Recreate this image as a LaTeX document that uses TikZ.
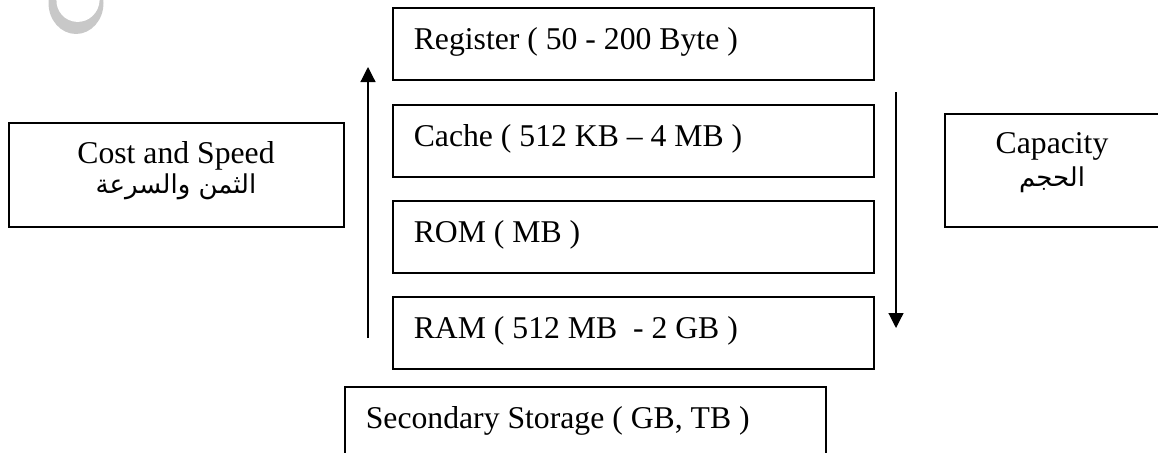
\documentclass[tikz,border=0pt]{standalone}
\usepackage{fontspec}
\setmainfont{Liberation Serif}
\newfontfamily\arabicfont[Script=Arabic]{DejaVu Sans}
\TeXXeTstate=1
\usetikzlibrary{arrows.meta}

\definecolor{wmgray}{RGB}{200,200,200}

\newcommand\tiertext[1]{\makebox[439pt][l]{#1}}

\tikzset{
  memtier/.style={draw, line width=1.6pt, anchor=north west,
    inner xsep=21pt, inner ysep=0pt,
    text height=42pt, text depth=30pt},
  sidebox/.style={draw, line width=1.6pt, anchor=north west},
  latin/.style={anchor=base, inner sep=0pt},
  arab/.style={anchor=base, inner sep=0pt, font=\arabicfont\fontsize{26pt}{30pt}\selectfont},
  flow/.style={line width=1.2pt, -{Triangle[width=15pt,length=15pt]}}
}

\begin{document}
\begin{tikzpicture}[x=1pt, y=-1pt, font=\fontsize{31.7pt}{38pt}\selectfont]
  \useasboundingbox (0,0) rectangle (1158,452);
  \clip (0,0) rectangle (1158,452);

  % faint ring mark in the corner
  \fill[wmgray] (76,3) ellipse [x radius=27.5pt, y radius=31pt];
  \fill[white, rotate around={-25:(78,0)}] (78,0) ellipse [x radius=21.5pt, y radius=22pt];

  % memory hierarchy tiers
  \node[memtier] (reg)   at (392,7)   {\tiertext{Register ( 50 - 200 Byte )}};
  \node[memtier] (cache) at (392,104) {\tiertext{Cache ( 512 KB – 4 MB )}};
  \node[memtier] (rom)   at (392,200) {\tiertext{ROM ( MB )}};
  \node[memtier] (ram)   at (392,296) {\tiertext{RAM ( 512 MB\ \ - 2 GB )}};
  \node[memtier, text depth=100pt] (sec) at (344,386) {\tiertext{Secondary Storage ( GB, TB )}};

  % side captions
  \node[sidebox, minimum width=335pt, minimum height=104pt] (costbox) at (8,122) {};
  \node[latin] (costtxt) at (176,163) {Cost and Speed};
  \node[arab] (costar) at (176,193) {\beginR الثمن والسرعة\endR};

  \node[sidebox, minimum width=216pt, minimum height=113pt] (capbox) at (944,113) {};
  \node[latin] (captxt) at (1052,153) {Capacity};
  \node[arab] (capar) at (1052,186) {\beginR الحجم\endR};

  % direction arrows
  \coordinate (upfrom) at (368,338);
  \coordinate (upto)   at (368,67);
  \coordinate (dnfrom) at (896,92);
  \coordinate (dnto)   at (896,328);
  \draw[flow] (upfrom) -- (upto);
  \draw[flow] (dnfrom) -- (dnto);
\end{tikzpicture}
\end{document}
